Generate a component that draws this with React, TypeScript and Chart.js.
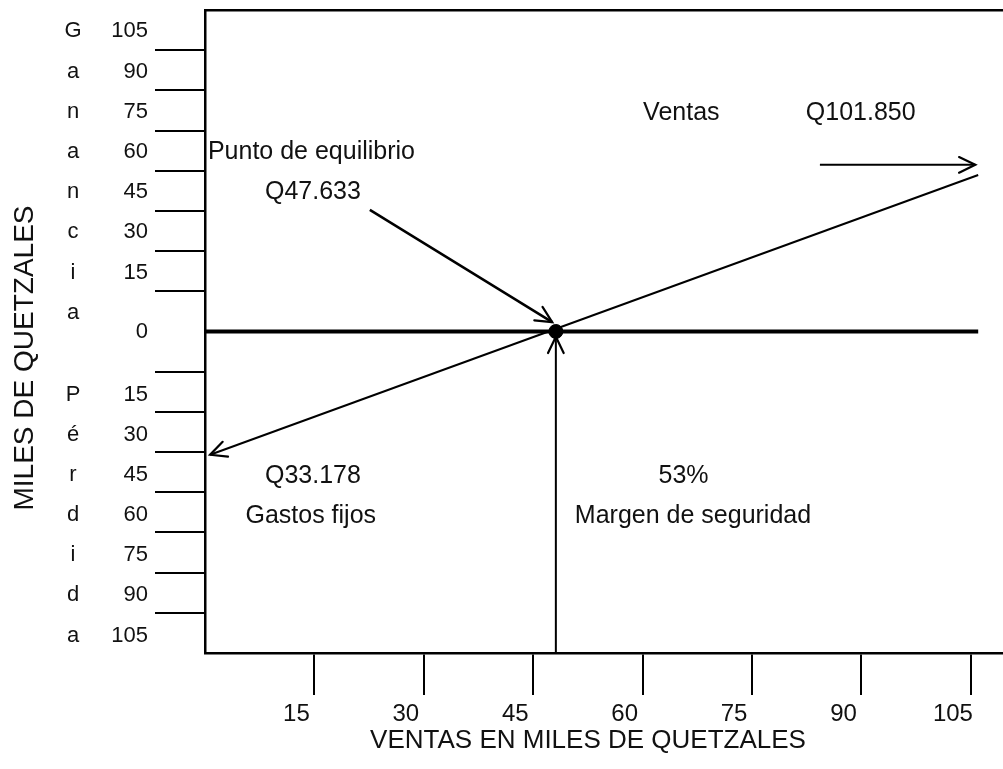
import React, { useEffect, useRef } from "react";
import { Chart, registerables } from "chart.js";

Chart.register(...registerables);

const FONT = '"Liberation Sans", Arial, Helvetica, sans-serif';

// ---- data ----
const xTickValues = [15, 30, 45, 60, 75, 90, 105];
const yTickValues = [15, 30, 45, 60, 75, 90, 105];
const gananciaLetters = ["G", "a", "n", "a", "n", "c", "i", "a"];
const perdidaLetters = ["P", "é", "r", "d", "i", "d", "a"];

const salesLine = [
  { x: 0.7, y: -46 },
  { x: 106, y: 58.4 },
];
const zeroLine = [
  { x: 0, y: 0 },
  { x: 106, y: 0 },
];
const breakEvenPoint = [{ x: 48.1, y: 0 }];
const marginArrow = [
  { x: 48.1, y: -120 },
  { x: 48.1, y: -2 },
];
const pointerArrow = [
  { x: 22.6, y: 45.4 },
  { x: 47.6, y: 3.5 },
];
const ventasArrow = [
  { x: 84.3, y: 62.2 },
  { x: 105.6, y: 62.2 },
];

const noteTexts = [
  "Punto de equilibrio",
  "Q47.633",
  "Ventas",
  "Q101.850",
  "Q33.178",
  "Gastos fijos",
  "53%",
  "Margen de seguridad",
];
const noteX = [0.4, 14.8, 65.3, 89.9, 14.8, 14.5, 65.6, 66.9];
const noteY = [67, 52.1, 81.6, 81.6, -53.9, -68.9, -53.9, -68.9];

const X_MIN = 0;
const X_MAX = 109.4;
const Y_MIN = -120;
const Y_MAX = 120;
const LABEL_UP = 7;
const LABEL_DOWN = 8.5;

const yLabelTicks = [
  ...[...yTickValues].reverse().map((v) => ({ value: -(v + LABEL_DOWN), label: String(v) })),
  { value: 0, label: "0" },
  ...yTickValues.map((v) => ({ value: v + LABEL_UP, label: String(v) })),
];

const arrowPlugin = {
  id: "arrowHeads",
  afterDatasetsDraw(chart: any) {
    const ctx = chart.ctx;
    chart.data.datasets.forEach((ds: any, i: number) => {
      if (!ds.arrowEnd && !ds.arrowStart) return;
      const pts = chart.getDatasetMeta(i).data;
      const draw = (tip: any, from: any) => {
        const ang = Math.atan2(tip.y - from.y, tip.x - from.x);
        const len = 18;
        const spread = 0.45;
        ctx.save();
        ctx.strokeStyle = "#000";
        ctx.lineWidth = 2.2;
        ctx.lineCap = "round";
        ctx.beginPath();
        ctx.moveTo(tip.x - len * Math.cos(ang - spread), tip.y - len * Math.sin(ang - spread));
        ctx.lineTo(tip.x, tip.y);
        ctx.lineTo(tip.x - len * Math.cos(ang + spread), tip.y - len * Math.sin(ang + spread));
        ctx.stroke();
        ctx.restore();
      };
      if (ds.arrowEnd) draw(pts[pts.length - 1], pts[pts.length - 2]);
      if (ds.arrowStart) draw(pts[0], pts[1]);
    });
  },
};

const textPlugin = {
  id: "texts",
  afterDraw(chart: any) {
    const ctx = chart.ctx;
    const xs = chart.scales.x;
    const ys = chart.scales.y;
    ctx.save();
    ctx.fillStyle = "#111";
    ctx.textBaseline = "middle";

    // annotations
    ctx.font = `25px ${FONT}`;
    noteTexts.forEach((t, i) => {
      ctx.textAlign = i === 0 ? "left" : "center";
      ctx.fillText(t, xs.getPixelForValue(noteX[i]), ys.getPixelForValue(noteY[i]));
    });

    // letter columns
    ctx.font = `22px ${FONT}`;
    ctx.textAlign = "center";
    gananciaLetters.forEach((c, i) => {
      ctx.fillText(c, 73, ys.getPixelForValue(105 - 15 * i + LABEL_UP));
    });
    perdidaLetters.forEach((c, i) => {
      ctx.fillText(c, 73, ys.getPixelForValue(-(15 + 15 * i + LABEL_DOWN)));
    });

    // axis titles
    ctx.font = `26px ${FONT}`;
    ctx.fillText("VENTAS EN MILES DE QUETZALES", 588, 741);
    ctx.translate(25, 358);
    ctx.rotate(-Math.PI / 2);
    ctx.font = `28px ${FONT}`;
    ctx.fillText("MILES DE QUETZALES", 0, 0);
    ctx.restore();
  },
};

export default function App() {
  const ref = useRef<HTMLCanvasElement | null>(null);

  useEffect(() => {
    document.body.style.margin = "0";
    const canvas = ref.current;
    if (!canvas) return;
    const lineDs = (data: any, width: number, extra: any = {}) => ({
      type: "line",
      data,
      borderColor: "#000",
      backgroundColor: "#000",
      borderWidth: width,
      pointRadius: 0,
      fill: false,
      tension: 0,
      ...extra,
    });
    const chart = new Chart(canvas, {
      type: "line",
      data: {
        datasets: [
          lineDs(zeroLine, 4),
          lineDs(salesLine, 2, { arrowStart: true }),
          lineDs(marginArrow, 2, { arrowEnd: true }),
          lineDs(pointerArrow, 2.5, { arrowEnd: true }),
          lineDs(ventasArrow, 2, { arrowEnd: true }),
          {
            type: "scatter",
            data: breakEvenPoint,
            pointRadius: 7,
            pointBackgroundColor: "#000",
            pointBorderColor: "#000",
            showLine: false,
          },
        ] as any,
      },
      options: {
        animation: false,
        responsive: false,
        events: [],
        layout: { autoPadding: false, padding: { left: 0, top: 10, right: 0, bottom: 0 } },
        plugins: { legend: { display: false }, tooltip: { enabled: false } },
        scales: {
          x: {
            type: "linear",
            position: "bottom",
            min: X_MIN,
            max: X_MAX,
            afterBuildTicks: (s: any) => {
              s.ticks = xTickValues.map((v) => ({ value: v }));
            },
            afterFit: (s: any) => {
              s.height = 116;
              s.paddingLeft = 0;
              s.paddingRight = 0;
            },
            grid: {
              display: true,
              drawOnChartArea: false,
              drawTicks: true,
              tickLength: 42,
              color: "#000",
              lineWidth: 2,
            },
            border: { display: true, color: "#000", width: 2.5 },
            ticks: {
              autoSkip: false,
              maxRotation: 0,
              labelOffset: -18,
              padding: 5,
              color: "#111",
              font: { family: FONT, size: 24 },
              callback: (v: any) => String(v),
            },
          },
          xTop: {
            type: "linear",
            position: "top",
            min: X_MIN,
            max: X_MAX,
            afterBuildTicks: (s: any) => {
              s.ticks = [];
            },
            afterFit: (s: any) => {
              s.height = 0;
              s.paddingLeft = 0;
              s.paddingRight = 0;
            },
            grid: { display: true, drawOnChartArea: false, drawTicks: false },
            border: { display: true, color: "#000", width: 2.5 },
            ticks: { display: false },
          },
          y: {
            type: "linear",
            position: "left",
            min: Y_MIN,
            max: Y_MAX,
            afterBuildTicks: (s: any) => {
              s.ticks = [
                ...[...yTickValues].reverse().map((v) => ({ value: -v })),
                ...yTickValues.map((v) => ({ value: v })),
              ];
            },
            afterFit: (s: any) => {
              s.width = 50;
              s.paddingTop = 0;
              s.paddingBottom = 0;
            },
            grid: {
              display: true,
              drawOnChartArea: false,
              drawTicks: true,
              tickLength: 50,
              color: "#000",
              lineWidth: 2,
            },
            border: { display: true, color: "#000", width: 2.5 },
            ticks: { display: false },
          },
          yLab: {
            type: "linear",
            position: "left",
            min: Y_MIN,
            max: Y_MAX,
            afterBuildTicks: (s: any) => {
              s.ticks = yLabelTicks.map((t) => ({ value: t.value }));
            },
            afterFit: (s: any) => {
              s.width = 155;
              s.paddingTop = 0;
              s.paddingBottom = 0;
            },
            grid: { display: true, drawOnChartArea: false, drawTicks: false },
            border: { display: false },
            ticks: {
              autoSkip: false,
              padding: 7,
              color: "#111",
              font: { family: FONT, size: 22 },
              callback: (_v: any, i: number) => yLabelTicks[i].label,
            },
          },
        },
      } as any,
      plugins: [arrowPlugin, textPlugin],
    });
    return () => chart.destroy();
  }, []);

  return (
    <div style={{ width: 1003, height: 769, background: "#fff" }}>
      <canvas ref={ref} width={1003} height={769} style={{ display: "block" }} />
    </div>
  );
}
